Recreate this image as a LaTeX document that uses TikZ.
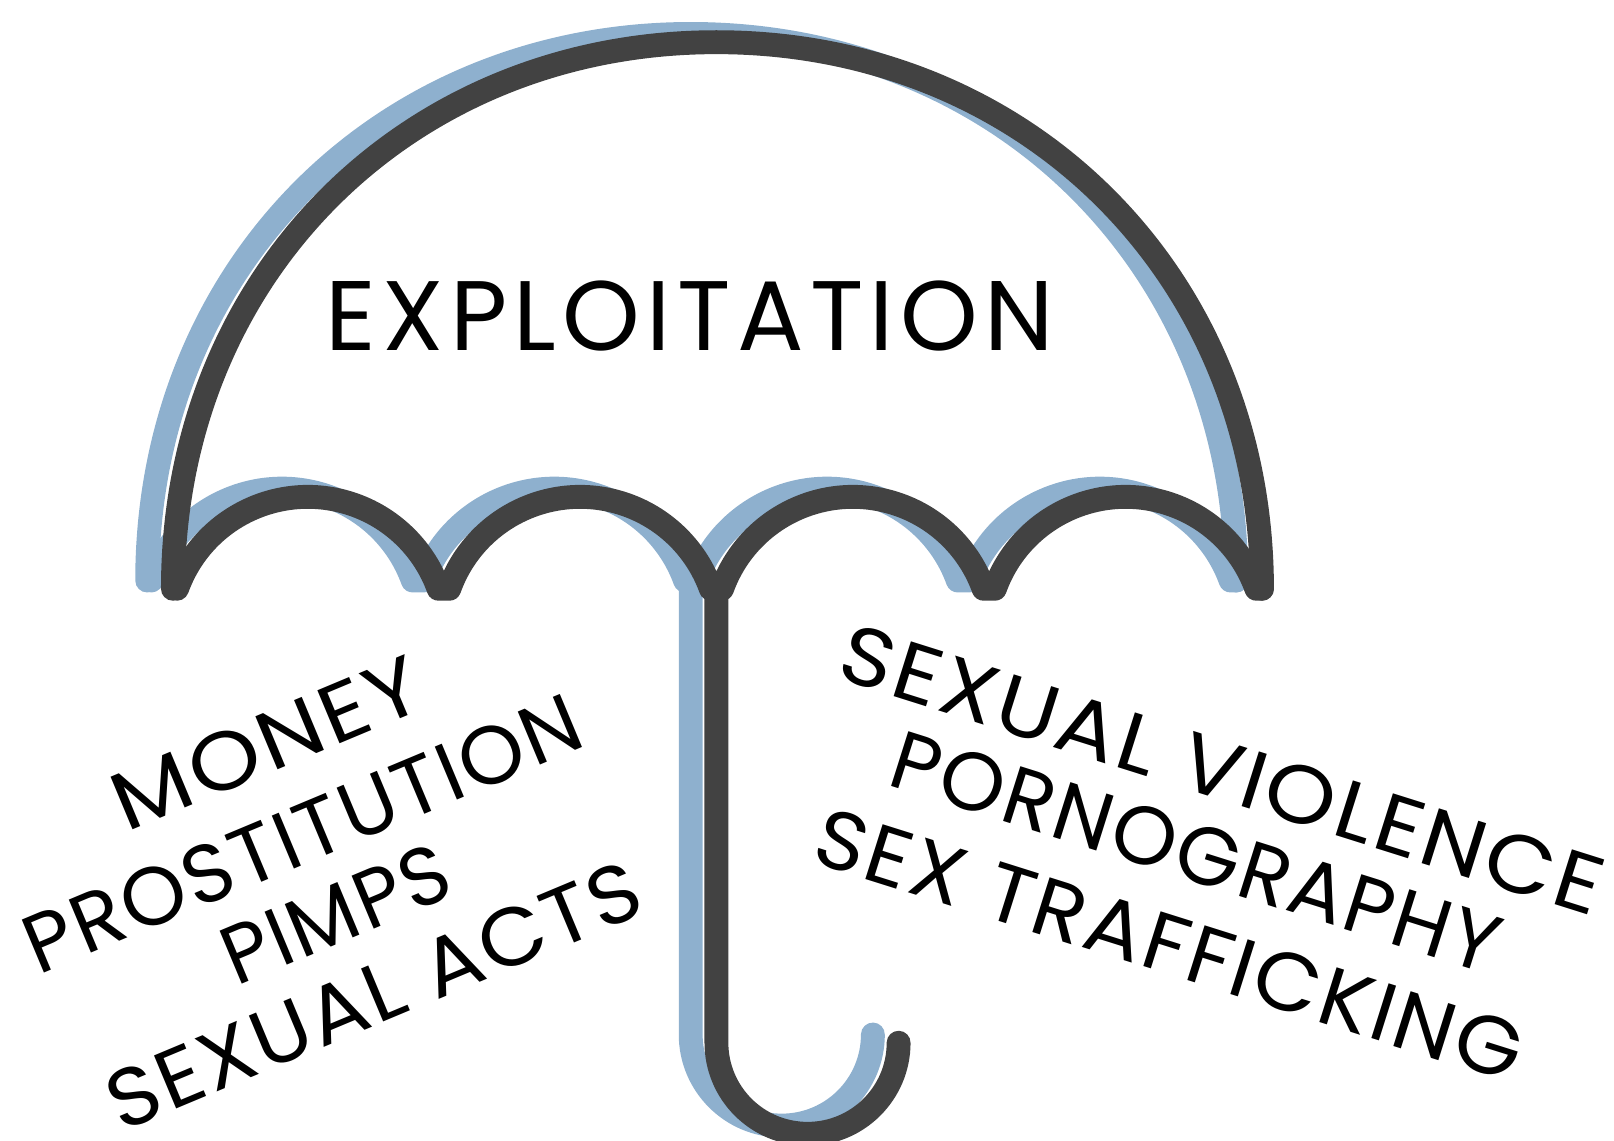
\documentclass[tikz,border=0pt]{standalone}
\usepackage{graphicx}
\usepackage{fontspec}
\setmainfont{Poppins}
\newfontfamily\titlefont[LetterSpace=6.4]{Poppins}
\newfontfamily\listfont[LetterSpace=3]{Poppins}
\definecolor{darkink}{HTML}{424242}
\definecolor{blueink}{HTML}{8EB0CE}
\tikzset{
  canopy/.style={line width=11.6pt,line cap=round,line join=round},
  title/.style={inner sep=0pt,font=\titlefont\fontsize{48}{48}\selectfont,text=black},
  leftlist/.style={inner sep=0pt,font=\listfont\fontsize{40}{40}\selectfont,text=black,rotate=22.7},
  rightlist/.style={inner sep=0pt,font=\listfont\fontsize{40}{40}\selectfont,text=black,rotate=-17.5}
}
\newcommand{\umbrella}[3]{%
  \draw[canopy,#1] (#2+168,#3+536) .. controls (#2+168,#3+839) and (#2+395,#3+1067) .. (#2+696,#3+1067)
     .. controls (#2+998,#3+1067) and (#2+1226,#3+839) .. (#2+1226,#3+536);
  \draw[canopy,#1] (#2+172,#3+536) arc[start angle=160.2,end angle=19.8,radius=135]
    -- (#2+436.5,#3+536) arc[start angle=160.2,end angle=19.8,radius=135]
    -- (#2+701.5,#3+536) arc[start angle=160.2,end angle=19.8,radius=135]
    -- (#2+966.5,#3+536) arc[start angle=160.2,end angle=19.8,radius=135]
    -- (#2+1226,#3+536);
  \draw[canopy,#1] (#2+696,#3+536) -- (#2+696,#3+95) arc[start angle=180,end angle=360,radius=88.5];
}
\begin{document}
\begin{tikzpicture}[x=0.5pt,y=0.5pt]
\useasboundingbox (0,0) rectangle (1568,1108);
\clip (0,0) rectangle (1568,1108);
\umbrella{blueink}{-25}{8}
\umbrella{darkink}{0}{0}
\node[title] (t) at (670,801) {EXPLOITATION};
\node[leftlist] (l1) at (259,386) {\scalebox{1.114}[1]{MONEY}};
\node[leftlist] (l2) at (294,298) {\scalebox{1.01}[1]{PROSTITUTION}};
\node[leftlist] (l3) at (326,220) {\scalebox{0.98}[1]{PIMPS}};
\node[leftlist] (l4) at (363,141) {\scalebox{1.05}[1]{SEXUAL ACTS}};
\node[rightlist] (r1) at (1187,360) {\scalebox{1.097}[1]{SEXUAL VIOLENCE}};
\node[rightlist] (r2) at (1162,280) {\scalebox{1.003}[1]{PORNOGRAPHY}};
\node[rightlist] (r3) at (1136,190) {\scalebox{1.046}[1]{SEX TRAFFICKING}};
\end{tikzpicture}
\end{document}
